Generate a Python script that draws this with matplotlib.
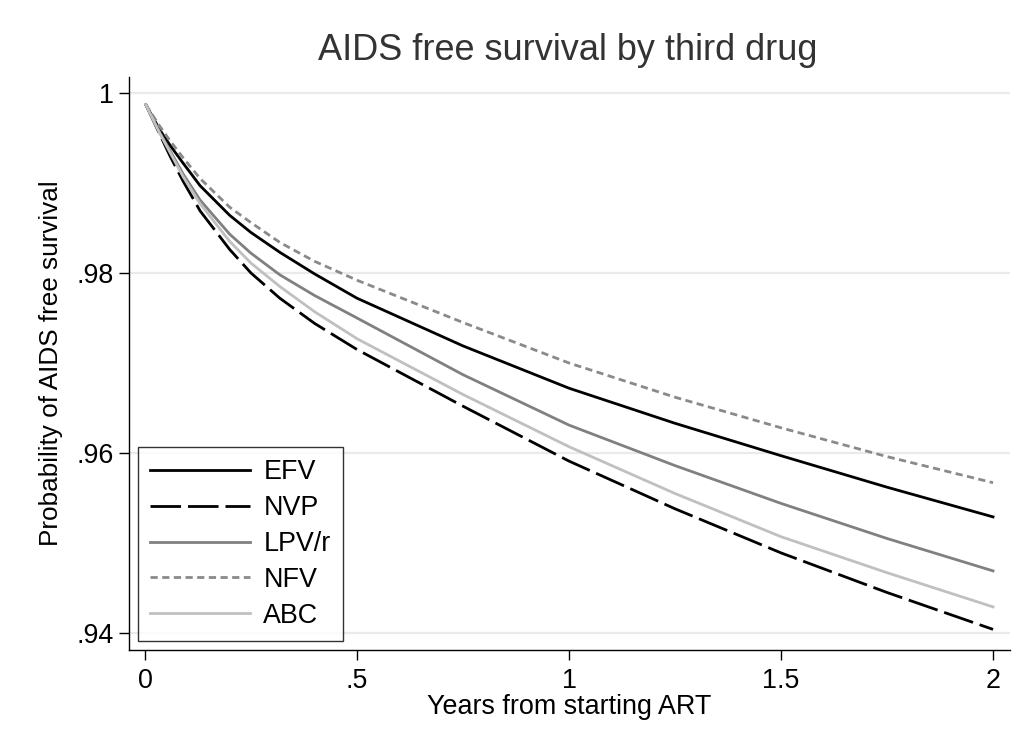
import matplotlib.pyplot as plt

plt.rcParams['font.family'] = ['Liberation Sans', 'DejaVu Sans']

# years from starting ART
years = [0.002, 0.035, 0.059, 0.09, 0.13, 0.2, 0.25, 0.318, 0.4, 0.5,
         0.75, 1.0, 1.25, 1.5, 1.75, 2.0]

# probability of AIDS free survival
efv = [0.9987, 0.9959, 0.9942, 0.9922, 0.9897, 0.9864, 0.9845, 0.9823, 0.9799, 0.9772,
       0.9719, 0.9672, 0.9633, 0.9597, 0.9562, 0.9529]
nvp = [0.9987, 0.9954, 0.9930, 0.9902, 0.9869, 0.9826, 0.9800, 0.9772, 0.9744, 0.9715,
       0.9652, 0.9591, 0.9538, 0.9489, 0.9445, 0.9404]
lpv = [0.9987, 0.9956, 0.9936, 0.9910, 0.9881, 0.9843, 0.9822, 0.9798, 0.9775, 0.9750,
       0.9687, 0.9631, 0.9586, 0.9544, 0.9505, 0.9469]
nfv = [0.9987, 0.9963, 0.9947, 0.9928, 0.9905, 0.9873, 0.9856, 0.9834, 0.9813, 0.9792,
       0.9745, 0.9700, 0.9662, 0.9628, 0.9596, 0.9567]
abc = [0.9987, 0.9955, 0.9934, 0.9907, 0.9877, 0.9835, 0.9811, 0.9785, 0.9757, 0.9727,
       0.9665, 0.9607, 0.9555, 0.9507, 0.9467, 0.9429]

labels = ['EFV', 'NVP', 'LPV/r', 'NFV', 'ABC']
yticks = [0.94, 0.96, 0.98, 1.0]
ytick_labels = ['.94', '.96', '.98', '1']
xticks = [0, 0.5, 1, 1.5, 2]
xtick_labels = ['0', '.5', '1', '1.5', '2']

fs = 19.4

fig = plt.figure(figsize=(10.24, 7.48), dpi=100)
ax = fig.add_axes([129 / 1024, 1 - 650 / 748, 881 / 1024, 573 / 748])

lw = 2.0
ax.plot(years, efv, color='black', lw=lw, label=labels[0])
ax.plot(years, nvp, color='black', lw=lw, dashes=(11, 2.5), label=labels[1])
ax.plot(years, lpv, color='#808080', lw=lw, label=labels[2])
ax.plot(years, nfv, color='#8a8a8a', lw=lw, dashes=(2.6, 1.6), label=labels[3])
ax.plot(years, abc, color='#c0c0c0', lw=lw, label=labels[4])

ax.set_xlim(-0.0377, 2.040)
ax.set_ylim(0.93811, 1.00178)

ax.set_yticks(yticks)
ax.set_yticklabels(ytick_labels)
ax.set_xticks(xticks)
ax.set_xticklabels(xtick_labels)
ax.tick_params(axis='both', labelsize=fs, direction='out', length=7, width=1, colors='black')
ax.tick_params(axis='x', pad=6)
ax.tick_params(axis='y', pad=4)

ax.grid(axis='y', color='#eaeaea', linewidth=1.6)
ax.set_axisbelow(True)
for side in ['top', 'right']:
    ax.spines[side].set_visible(False)
for side in ['left', 'bottom']:
    ax.spines[side].set_linewidth(1.0)

ax.set_xlabel('Years from starting ART', fontsize=fs, labelpad=0)
ax.set_ylabel('Probability of AIDS free survival', fontsize=18.8, labelpad=10)
fig.text(568 / 1024, 1 - 50 / 748, 'AIDS free survival by third drug', fontsize=26,
         color='#333333', ha='center', va='center')

leg = ax.legend(loc='lower left', bbox_to_anchor=(9 / 881, 9 / 573), fontsize=fs,
                frameon=True, fancybox=False, handlelength=3.7, handletextpad=0.5,
                labelspacing=0.37, borderpad=0.45, borderaxespad=0)
leg.get_frame().set_edgecolor('black')
leg.get_frame().set_linewidth(1.0)

fig.savefig('out.png', dpi=100, facecolor='white')
